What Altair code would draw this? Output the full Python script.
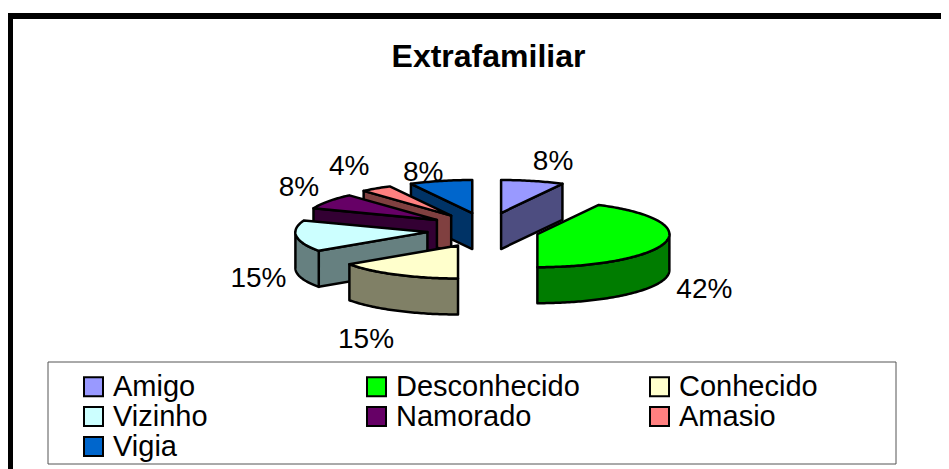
import math
import altair as alt
import pandas as pd

# --- data -------------------------------------------------------------
names = ["Amigo", "Desconhecido", "Conhecido", "Vizinho", "Namorado", "Amasio", "Vigia"]
counts = [2, 11, 4, 4, 2, 1, 2]
top_colors = ["#9999ff", "#00ff00", "#ffffcc", "#ccffff", "#660066", "#ff8080", "#0066cc"]
side_colors = ["#4d4d80", "#007c00", "#808066", "#668080", "#330033", "#804040", "#003366"]

# --- layout -----------------------------------------------------------
X0, Y0 = 483, 230       # pie centre before explosion
RX, RY = 132, 33        # ellipse radii
DEPTH = 36              # wall height
EX, EY = 56, 17.5       # explosion distance
x_explode = [1.35, 1, 0.96, 1, 1, 1, 0.8]
draw_order = [0, 6, 5, 4, 3, 1, 2]
label_dx = [52, 167, -92, -169, -138, -102, -49]
label_dy = [-51, 56, 95, 47, -32, -49, -40]
W, H = 933, 461

total = sum(counts)
rows, labels = [], []
start = 0.0
spans = []
for c in counts:
    spans.append((start, start + 360.0 * c / total))
    start += 360.0 * c / total


def rim(cx, cy, deg, dz=0):
    r = math.radians(deg)
    return cx + RX * math.sin(r), cy - RY * math.cos(r) + dz


poly = 0


def add(points, fill):
    global poly
    for k, (px, py) in enumerate(points):
        rows.append({"poly": poly, "k": k, "px": px, "py": py, "fillc": fill})
    poly += 1


centers = []
for i, (a, b) in enumerate(spans):
    m = math.radians((a + b) / 2)
    centers.append((X0 + EX * x_explode[i] * math.sin(m), Y0 - EY * math.cos(m)))

for i in draw_order:
    a, b = spans[i]
    cx, cy = centers[i]
    n = max(2, int(b - a) + 1)
    arc = [a + (b - a) * t / (n - 1) for t in range(n)]
    # radial walls facing the viewer
    if 180 < a < 360:
        add([(cx, cy), rim(cx, cy, a), rim(cx, cy, a, DEPTH), (cx, cy + DEPTH)], side_colors[i])
    if 0 < b < 180:
        add([(cx, cy), rim(cx, cy, b), rim(cx, cy, b, DEPTH), (cx, cy + DEPTH)], side_colors[i])
    # outer wall
    lo, hi = max(a, 90), min(b, 270)
    if hi > lo:
        steps = [d for d in arc if lo <= d <= hi]
        steps = [lo] + steps + [hi]
        add([rim(cx, cy, d) for d in steps] + [rim(cx, cy, d, DEPTH) for d in reversed(steps)], side_colors[i])
    # top face
    add([(cx, cy)] + [rim(cx, cy, d) for d in arc], top_colors[i])
    pct = round(100 * counts[i] / total)
    labels.append({"lx": cx + label_dx[i], "ly": cy + label_dy[i], "txt": f"{pct}%"})

df = pd.DataFrame(rows)
lab = pd.DataFrame(labels)
leg = pd.DataFrame({"name": names})

xs = alt.Scale(domain=[8, 8 + W], nice=False, zero=False)
ys = alt.Scale(domain=[8 + H, 8], nice=False, zero=False)
X = lambda f: alt.X(f, type="quantitative", scale=xs, axis=None)
Y = lambda f: alt.Y(f, type="quantitative", scale=ys, axis=None)

slices = alt.Chart(df).mark_line(
    interpolate="linear-closed", stroke="black", strokeWidth=2.5, strokeJoin="round"
).encode(
    x=X("px"), y=Y("py"), order=alt.Order("k:Q"), detail="poly:N",
    fill=alt.Fill("fillc:N", scale=None, legend=None),
)

text = alt.Chart(lab).mark_text(font="Liberation Sans", fontSize=28, color="black").encode(
    x=X("lx"), y=Y("ly"), text="txt:N"
)

title = alt.Chart(pd.DataFrame({"t": ["Extrafamiliar"], "tx": [488.5], "ty": [57]})).mark_text(
    font="Liberation Sans", fontSize=32, fontWeight="bold", color="black"
).encode(x=X("tx"), y=Y("ty"), text="t:N")

legend_box = alt.Chart(pd.DataFrame({"a": [48], "b": [896], "c": [362], "d": [464]})).mark_rect(
    fill="white", stroke="#555555", strokeWidth=1
).encode(x=X("a"), x2="b:Q", y=Y("c"), y2="d:Q")

legend_layer = alt.Chart(leg).mark_square(size=0, opacity=1).encode(
    x=alt.value(0), y=alt.value(0),
    color=alt.Color(
        "name:N",
        scale=alt.Scale(domain=names, range=top_colors),
        legend=alt.Legend(
            title=None, orient="none", legendX=71, legendY=364, columns=3, direction="horizontal",
            gridAlign="all", columnPadding=65, rowPadding=0,
            labelFont="Liberation Sans", labelFontSize=29, labelColor="black", labelLimit=400,
            symbolType="square", symbolSize=361, symbolStrokeColor="black", symbolStrokeWidth=2,
            symbolOpacity=1, labelOffset=5,
        ),
    ),
)

frame = alt.Chart(pd.DataFrame({"a": [8, 8], "b": [8 + W, 13], "c": [13, 13], "d": [19, 8 + H]})).mark_rect(
    fill="black"
).encode(x=X("a"), x2="b:Q", y=Y("c"), y2="d:Q")

chart = alt.layer(frame, legend_box, slices, text, title, legend_layer).properties(
    width=W, height=H, padding=0, autosize=alt.AutoSizeParams(type="none"),
    background="white",
).configure_view(stroke=None)

chart.save("out.html", embed_options={"renderer": "svg", "actions": False})
